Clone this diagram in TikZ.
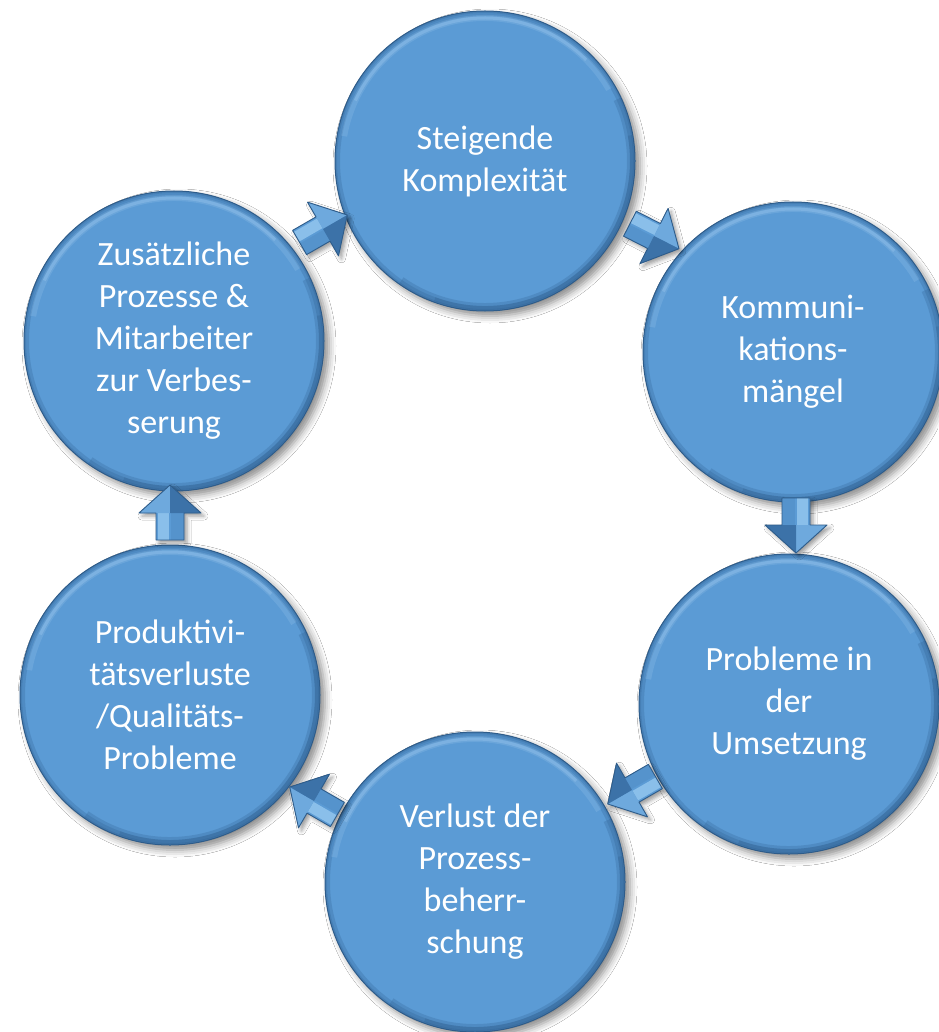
\documentclass[tikz,border=0pt]{standalone}
\usepackage{fontspec}
\setmainfont{Carlito}
\usetikzlibrary{shadows.blur,calc}
\definecolor{bub}{HTML}{5B9BD5}
\definecolor{bubedge}{HTML}{2E5C8A}
\definecolor{bublight}{HTML}{A8D0F2}
\definecolor{bubdark}{HTML}{2F5F8F}
\definecolor{arrlight}{HTML}{8ABFEA}
\definecolor{arrmid}{HTML}{5B9BD5}
\definecolor{arrdark}{HTML}{3C72A8}
\tikzset{
  bubble/.style={circle, minimum size=300pt, inner sep=0pt, fill=bub, draw=bubedge,
    line width=1pt, text=white, font=\fontsize{34pt}{42pt}\selectfont, align=center,
    blur shadow={shadow xshift=5pt, shadow yshift=-5pt, shadow blur radius=7pt, shadow opacity=45},
    path picture={
      \draw[bubdark, line width=10pt, opacity=0.25] (path picture bounding box.center) circle[radius=150pt];
      \draw[bubdark, line width=4pt, opacity=0.25] (path picture bounding box.center) circle[radius=150pt];
      \draw[bublight, line width=6pt, opacity=0.2]
        ([shift={(30:143pt)}]path picture bounding box.center) arc[start angle=30, end angle=170, radius=143pt];
      \draw[bublight, line width=3pt, opacity=0.3]
        ([shift={(45:143pt)}]path picture bounding box.center) arc[start angle=45, end angle=155, radius=143pt];
      \draw[bubdark, line width=8pt, opacity=0.25]
        ([shift={(-125:146pt)}]path picture bounding box.center) arc[start angle=-125, end angle=25, radius=146pt];
      \draw[bubdark, line width=4pt, opacity=0.3]
        ([shift={(-110:147pt)}]path picture bounding box.center) arc[start angle=-110, end angle=10, radius=147pt];
    }},
  arrowshadow/.style={blur shadow={shadow xshift=3pt, shadow yshift=-3pt, shadow blur radius=4pt, shadow opacity=40}},
  blockarrow/.pic={
    \fill[arrmid, arrowshadow] (-27pt,-14pt) -- (0pt,-14pt) -- (0pt,-31pt) -- (28pt,0pt)
      -- (0pt,31pt) -- (0pt,14pt) -- (-27pt,14pt) -- cycle;
    \fill[arrlight] (-27pt,1pt) -- (0pt,1pt) -- (0pt,12pt) -- (-27pt,12pt) -- cycle;
    \fill[arrmid!80!arrdark] (-27pt,-1pt) -- (0pt,-1pt) -- (0pt,-14pt) -- (-27pt,-14pt) -- cycle;
    \fill[arrmid!60!arrlight] (0pt,0pt) -- (28pt,0pt) -- (0pt,31pt) -- cycle;
    \fill[arrdark] (0pt,0pt) -- (28pt,0pt) -- (0pt,-31pt) -- cycle;
    \draw[bubedge, line width=0.9pt, line join=round] (-27pt,-14pt) -- (0pt,-14pt) -- (0pt,-31pt)
      -- (28pt,0pt) -- (0pt,31pt) -- (0pt,14pt) -- (-27pt,14pt) -- cycle;
  }
}
\begin{document}
\begin{tikzpicture}[x=1pt, y=-1pt]
  \fill[white] (0,0) rectangle (938,1032);
  \useasboundingbox (0,0) rectangle (938,1032);

  \node[bubble] (A) at (485,161) {Steigende\\Komplexität};
  \node[bubble] (B) at (793,352) {Kommuni-\\kations-\\mängel};
  \node[bubble] (C) at (789,704) {Probleme in\\der\\Umsetzung};
  \node[bubble] (D) at (475,882) {Verlust der\\Prozess-\\beherr-\\schung};
  \node[bubble] (E) at (170,695) {Produktivi-\\tätsverluste\\/Qualitäts-\\Probleme};
  \node[bubble] (F) at (174,341) {Zusätzliche\\Prozesse \&\\Mitarbeiter\\zur Verbes-\\serung};

  \pic (fa) [rotate=30]   at (323,229) {blockarrow};
  \pic (ab) [rotate=-27]  at (654,236) {blockarrow};
  \pic (bc) [rotate=-90]  at (796,525) {blockarrow};
  \pic (cd) [rotate=-150] at (632,790) {blockarrow};
  \pic (de) [rotate=150]  at (314,801) {blockarrow};
  \pic (ef) [rotate=90]   at (170,513) {blockarrow};
\end{tikzpicture}
\end{document}
